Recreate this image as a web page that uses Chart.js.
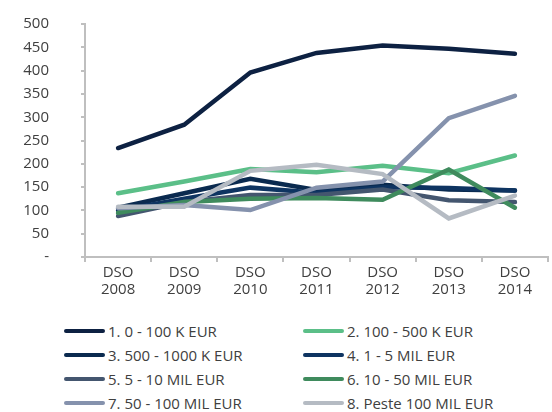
<!DOCTYPE html>
<html>
<head>
<meta charset="utf-8">
<script src="https://cdn.jsdelivr.net/npm/chart.js@4.4.1/dist/chart.umd.min.js"></script>
<style>
  html, body { margin: 0; padding: 0; background: #fff; }
  body { width: 552px; height: 412px; overflow: hidden; font-family: "Open Sans", sans-serif; }
  #wrap { position: relative; width: 552px; height: 300px; }
  #legend {
    display: grid;
    grid-template-columns: 239px 200px;
    grid-auto-rows: 24px;
    padding-left: 64px;
    margin-top: 19px;
  }
  .item { display: flex; align-items: center; font-size: 15px; color: #404040; white-space: nowrap; }
  .swatch { width: 41px; height: 4px; border-radius: 2px; margin-right: 3px; }
</style>
</head>
<body>
<div id="wrap"><canvas id="dsoChart" width="552" height="300"></canvas></div>
<div id="legend"></div>
<script>
// Categories
const years = ['2008', '2009', '2010', '2011', '2012', '2013', '2014'];

// Series names
const seriesNames = [
    '1. 0 - 100 K EUR',
    '2. 100 - 500 K EUR',
    '3. 500 - 1000 K EUR',
    '4. 1 - 5 MIL EUR',
    '5. 5 - 10 MIL EUR',
    '6. 10 - 50 MIL EUR',
    '7. 50 - 100 MIL EUR',
    '8. Peste 100 MIL EUR'
];

// DSO values per series
const s1 = [234, 284, 396, 438, 454, 447, 436];
const s2 = [137, 162, 189, 182, 196, 180, 218];
const s3 = [106, 137, 168, 144, 155, 145, 143];
const s4 = [100, 125, 149, 138, 150, 148, 143];
const s5 = [88, 118, 133, 133, 145, 122, 118];
const s6 = [95, 118, 125, 127, 123, 188, 106];
const s7 = [105, 112, 101, 149, 162, 298, 346];
const s8 = [108, 108, 185, 198, 178, 83, 132];

const yTicks = [0, 50, 100, 150, 200, 250, 300, 350, 400, 450, 500];

const colors = ['#0d2142', '#5bbf88', '#0a2a4f', '#0e3461', '#44566f', '#3f8b5d', '#8592ad', '#b5bbc3'];

const seriesData = [s1, s2, s3, s4, s5, s6, s7, s8];

const datasets = seriesNames.map(function(name, i) {
    return {
        label: name,
        data: seriesData[i],
        borderColor: colors[i],
        backgroundColor: colors[i],
        borderWidth: 4.5,
        pointRadius: 0,
        tension: 0,
        borderCapStyle: 'round'
    };
});

// draw order: later datasets on top, same as the picture
datasets.forEach(function(d, i) { d.order = 8 - i; });

const ctx = document.getElementById('dsoChart').getContext('2d');
const chart = new Chart(ctx, {
    type: 'line',
    data: {
        labels: years.map(function(y) { return ['DSO', y]; }),
        datasets: datasets
    },
    options: {
        responsive: false,
        animation: false,
        layout: { padding: { top: 24, right: 4, bottom: 0, left: 0 } },
        plugins: {
            legend: { display: false },
            tooltip: { enabled: false }
        },
        scales: {
            x: {
                offset: true,
                grid: {
                    offset: true,
                    drawOnChartArea: false,
                    drawTicks: true,
                    tickLength: 5,
                    color: '#bfbfbf',
                    lineWidth: 2
                },
                border: { color: '#bfbfbf', width: 2 },
                ticks: {
                    color: '#404040',
                    padding: 2,
                    maxRotation: 0,
                    font: { family: 'Open Sans', size: 15, lineHeight: 1.13 }
                }
            },
            y: {
                min: 0,
                max: 500,
                afterFit: function(scale) {
                    scale.width = 85;
                    scale.paddingTop = 0;
                    scale.paddingBottom = 0;
                },
                afterBuildTicks: function(scale) {
                    scale.ticks = yTicks.map(function(v) { return { value: v }; });
                },
                grid: {
                    drawOnChartArea: false,
                    drawTicks: true,
                    tickLength: 4,
                    color: '#bfbfbf',
                    lineWidth: 2
                },
                border: { color: '#bfbfbf', width: 2 },
                ticks: {
                    color: '#404040',
                    padding: 32,
                    font: { family: 'Open Sans', size: 15 },
                    callback: function(v) { return v === 0 ? '-' : v; }
                }
            }
        }
    }
});

// HTML legend in two columns, built from the chart datasets
const legendEl = document.getElementById('legend');
chart.data.datasets.forEach(function(ds) {
    const item = document.createElement('div');
    item.className = 'item';
    const sw = document.createElement('span');
    sw.className = 'swatch';
    sw.style.background = ds.borderColor;
    const txt = document.createElement('span');
    txt.textContent = ds.label;
    item.appendChild(sw);
    item.appendChild(txt);
    legendEl.appendChild(item);
});
</script>
</body>
</html>
